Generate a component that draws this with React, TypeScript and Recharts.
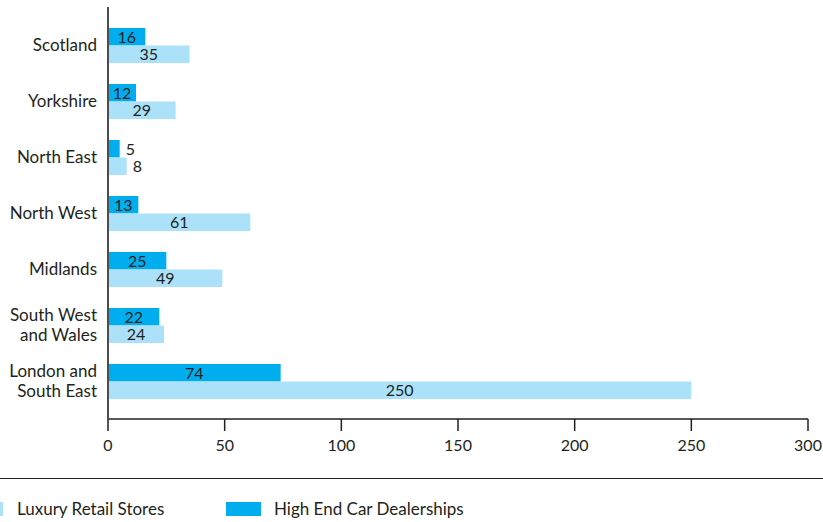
import React from 'react';
import { BarChart, Bar, XAxis, YAxis, LabelList } from 'recharts';

const regions = [
  'Scotland',
  'Yorkshire',
  'North East',
  'North West',
  'Midlands',
  'South West\nand Wales',
  'London and\nSouth East',
];
const carDealerships = [16, 12, 5, 13, 25, 22, 74];
const retailStores = [35, 29, 8, 61, 49, 24, 250];
const xTicks = [0, 50, 100, 150, 200, 250, 300];

const DARK = '#00AEEF';
const LIGHT = '#ABE2FA';
const INK = '#231F20';
const FONT = 'Lato, "Noto Sans", sans-serif';

const data = regions.map((region, i) => ({
  region,
  car: carDealerships[i],
  retail: retailStores[i],
}));

// multi-line category labels, right aligned against the axis
const RegionTick = (props: any) => {
  const { x, y, payload } = props;
  const lines = String(payload.value).split('\n');
  const lineHeight = 20;
  const start = -((lines.length - 1) * lineHeight) / 2;
  return (
    <text
      x={x - 3}
      y={y}
      textAnchor="end"
      fill={INK}
      fontSize={17}
      fontFamily={FONT}
    >
      {lines.map((line, i) => (
        <tspan key={i} x={x - 3} y={y + start + i * lineHeight} dy="0.36em">
          {line}
        </tspan>
      ))}
    </text>
  );
};

// value centred in the bar, or just past its end when the bar is too short
const ValueLabel = (props: any) => {
  const { x, y, width, height, value } = props;
  const inside = width >= 22;
  return (
    <text
      x={inside ? x + width / 2 : x + width + 6}
      y={y + height / 2}
      dy="0.36em"
      textAnchor={inside ? 'middle' : 'start'}
      fill={INK}
      fontSize={16}
      fontFamily={FONT}
    >
      {value}
    </text>
  );
};

const legendItems = [
  { name: 'Luxury Retail Stores', color: LIGHT, swatchX: -32, textX: 17 },
  { name: 'High End Car Dealerships', color: DARK, swatchX: 226, textX: 274 },
];

export default function App() {
  return (
    <div
      style={{
        position: 'absolute',
        left: 0,
        top: 0,
        width: 823,
        height: 522,
        background: '#fff',
        overflow: 'hidden',
        fontFamily: FONT,
      }}
    >
      <BarChart
        width={823}
        height={470}
        data={data}
        layout="vertical"
        margin={{ top: 7, right: 15, left: 0, bottom: 10 }}
        barSize={17.5}
        barGap={0}
      >
        <XAxis
          type="number"
          domain={[0, 300]}
          ticks={xTicks}
          height={41}
          tickSize={12}
          tickMargin={9}
          stroke={INK}
          strokeWidth={1.5}
          tick={{ fill: INK, fontSize: 16, fontFamily: FONT }}
          tickLine={{ stroke: INK, strokeWidth: 1.5 }}
        />
        <YAxis
          type="category"
          dataKey="region"
          width={108}
          tickLine={false}
          axisLine={{ stroke: '#4D4D4F', strokeWidth: 2 }}
          padding={{ top: 10, bottom: 10 }}
          interval={0}
          tick={<RegionTick />}
        />
        <Bar dataKey="car" fill={DARK} isAnimationActive={false}>
          <LabelList dataKey="car" content={<ValueLabel />} />
        </Bar>
        <Bar dataKey="retail" fill={LIGHT} isAnimationActive={false}>
          <LabelList dataKey="retail" content={<ValueLabel />} />
        </Bar>
      </BarChart>

      <div
        style={{
          position: 'absolute',
          left: 0,
          top: 478,
          width: 823,
          height: 0,
          borderTop: `1.5px solid ${INK}`,
        }}
      />
      {legendItems.map((item) => (
        <React.Fragment key={item.name}>
          <div
            style={{
              position: 'absolute',
              left: item.swatchX,
              top: 502,
              width: 35,
              height: 14,
              background: item.color,
            }}
          />
          <div
            style={{
              position: 'absolute',
              left: item.textX,
              top: 497,
              lineHeight: '24px',
              fontSize: 17,
              color: INK,
              whiteSpace: 'nowrap',
            }}
          >
            {item.name}
          </div>
        </React.Fragment>
      ))}
    </div>
  );
}
